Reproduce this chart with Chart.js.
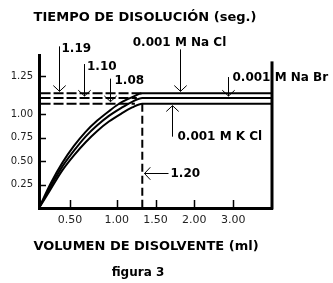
<!DOCTYPE html>
<html>
<head>
<meta charset="utf-8">
<script src="https://cdn.jsdelivr.net/npm/chart.js@4"></script>
<style>
  body { margin: 0; background: #fff; }
</style>
</head>
<body>
<canvas id="figura" width="333" height="283"></canvas>
<script>
const volumen = [0, 0.15, 0.3, 0.45, 0.6, 0.75, 0.9, 1.05, 1.2, 1.33, 3.0];
const tiempoNaCl = [0, 0.26, 0.48, 0.66, 0.81, 0.93, 1.03, 1.12, 1.18, 1.22, 1.22];
const tiempoNaBr = [0, 0.23, 0.44, 0.61, 0.76, 0.88, 0.98, 1.06, 1.13, 1.17, 1.17];
const tiempoKCl = [0, 0.20, 0.40, 0.56, 0.70, 0.82, 0.92, 1.00, 1.07, 1.11, 1.11];

// dashed guides: level of each one and where it stops
const guiaNiveles = [1.22, 1.17, 1.11];
const guiaFin = [1.33, 1.26, 1.235];
const guiaVolumen = 1.33;

// the figure's axes are not to scale, so tick values are where the labels sit
const xTicks = [0.4, 1.0, 1.5, 2.0, 2.5];
const xLabels = ['0.50', '1.00', '1.50', '2.00', '3.00'];
const yTicks = [0.25, 0.5, 0.75, 1.0, 1.4];
const yLabels = ['0.25', '0.50', '0.75', '1.00', '1.25'];

const negro = '#000';

function curva(valores) {
    return {
        data: volumen.map((v, i) => ({ x: v, y: valores[i] })),
        borderColor: negro,
        borderWidth: 2,
        pointRadius: 0,
        cubicInterpolationMode: 'monotone',
    };
}

function guia(nivel, fin) {
    return {
        data: [{ x: 0.02, y: nivel }, { x: fin, y: nivel }],
        borderColor: negro,
        borderWidth: 2,
        borderDash: [10, 3],
        pointRadius: 0,
    };
}

// arrow + label notes (pixel offsets are layout only)
const notas = [
    { texto: '1.19', x: 0.26, y: guiaNiveles[0], dir: 'abajo', largo: 45, dx: 2, dy: 3, align: 'left' },
    { texto: '1.10', x: 0.58, y: guiaNiveles[1], dir: 'abajo', largo: 32, dx: 2.5, dy: 3, align: 'left' },
    { texto: '1.08', x: 0.92, y: guiaNiveles[2], dir: 'abajo', largo: 23, dx: 4, dy: 2, align: 'left' },
    { texto: '0.001 M Na Cl', x: 1.82, y: guiaNiveles[0], dir: 'abajo', largo: 42, dx: -1, dy: -6, align: 'center' },
    { texto: '0.001 M Na Br', x: 2.43, y: guiaNiveles[1], dir: 'abajo', largo: 19, dx: 4, dy: 1, align: 'left' },
    { texto: '0.001 M K Cl', x: 1.71, y: guiaNiveles[2], dir: 'arriba', largo: 31, dx: 5, dy: 0, align: 'left' },
    { texto: '1.20', x: guiaVolumen, y: 0.37, dir: 'izquierda', largo: 24, dx: 2, dy: 0, align: 'left' },
];

function flecha(ctx, x1, y1, x2, y2) {
    ctx.beginPath();
    ctx.moveTo(x1, y1);
    ctx.lineTo(x2, y2);
    ctx.stroke();
    const a = Math.atan2(y2 - y1, x2 - x1);
    const L = 8.5, w = 0.82;
    ctx.beginPath();
    ctx.moveTo(x2 - L * Math.cos(a - w), y2 - L * Math.sin(a - w));
    ctx.lineTo(x2, y2);
    ctx.lineTo(x2 - L * Math.cos(a + w), y2 - L * Math.sin(a + w));
    ctx.stroke();
}

const figuraPlugin = {
    id: 'figura',
    afterDraw(chart) {
        const ctx = chart.ctx;
        const xs = chart.scales.x, ys = chart.scales.y;
        const area = chart.chartArea;
        ctx.save();
        ctx.strokeStyle = negro;
        ctx.fillStyle = negro;

        // right axis
        ctx.lineWidth = 3;
        ctx.beginPath();
        ctx.moveTo(xs.getPixelForValue(3), ys.getPixelForValue(1.56));
        ctx.lineTo(xs.getPixelForValue(3), area.bottom + 1.5);
        ctx.stroke();

        // inner tick marks
        ctx.lineWidth = 1.5;
        yTicks.forEach(v => {
            const y = Math.round(ys.getPixelForValue(v)) + 0.5;
            ctx.beginPath();
            ctx.moveTo(area.left + 1, y);
            ctx.lineTo(area.left + 7, y);
            ctx.stroke();
        });
        xTicks.forEach(v => {
            const x = Math.round(xs.getPixelForValue(v)) + 0.5;
            ctx.beginPath();
            ctx.moveTo(x, area.bottom - 1);
            ctx.lineTo(x, area.bottom - 8);
            ctx.stroke();
        });

        // arrows and their labels
        ctx.lineWidth = 1;
        ctx.font = 'bold 12px "DejaVu Sans"';
        ctx.textBaseline = 'middle';
        notas.forEach(n => {
            const px = Math.round(xs.getPixelForValue(n.x)) + 0.5;
            const py = ys.getPixelForValue(n.y);
            let tip, cola;
            if (n.dir === 'abajo') {
                tip = [px, py - 2];
                cola = [px, py - 2 - n.largo];
            } else if (n.dir === 'arriba') {
                tip = [px, py + 2];
                cola = [px, py + 2 + n.largo];
            } else {
                const yy = Math.round(py) + 0.5;
                tip = [px + 2, yy];
                cola = [px + 2 + n.largo, yy];
            }
            flecha(ctx, cola[0], cola[1], tip[0], tip[1]);
            ctx.textAlign = n.align;
            ctx.fillText(n.texto, cola[0] + n.dx, cola[1] + n.dy);
        });

        // titles
        ctx.textAlign = 'center';
        ctx.font = 'bold 13px "DejaVu Sans"';
        ctx.fillText('TIEMPO DE DISOLUCIÓN (seg.)', 145, 18);
        ctx.fillText('VOLUMEN DE DISOLVENTE (ml)', 146, 247);
        ctx.font = 'bold 12px "DejaVu Sans"';
        ctx.fillText('figura 3', 138, 273);
        ctx.restore();
    },
};

new Chart(document.getElementById('figura').getContext('2d'), {
    type: 'line',
    data: {
        datasets: [
            curva(tiempoNaCl),
            curva(tiempoNaBr),
            curva(tiempoKCl),
            ...guiaNiveles.map((n, i) => guia(n, guiaFin[i])),
            {
                data: [{ x: guiaVolumen, y: tiempoKCl[tiempoKCl.length - 1] }, { x: guiaVolumen, y: 0 }],
                borderColor: negro,
                borderWidth: 2,
                borderDash: [8, 4],
                pointRadius: 0,
            },
        ],
    },
    options: {
        responsive: false,
        animation: false,
        layout: { padding: { top: 55, right: 61, bottom: 0, left: 0 } },
        plugins: { legend: { display: false }, tooltip: { enabled: false } },
        scales: {
            x: {
                type: 'linear',
                min: 0,
                max: 3,
                afterFit: s => { s.height = 75; },
                afterBuildTicks: s => { s.ticks = xTicks.map(v => ({ value: v })); },
                grid: { display: false, drawTicks: false },
                border: { display: true, color: negro, width: 3 },
                ticks: {
                    callback: (v, i) => xLabels[i],
                    autoSkip: false,
                    maxRotation: 0,
                    padding: 6,
                    color: '#222',
                    font: { family: 'DejaVu Sans', size: 11 },
                },
            },
            y: {
                type: 'linear',
                min: 0,
                max: 1.628,
                afterFit: s => { s.width = 39; },
                afterBuildTicks: s => { s.ticks = yTicks.map(v => ({ value: v })); },
                grid: { display: false, drawTicks: false },
                border: { display: true, color: negro, width: 3 },
                ticks: {
                    callback: (v, i) => yLabels[i],
                    autoSkip: false,
                    padding: 6,
                    color: '#222',
                    font: { family: 'DejaVu Sans', size: 10 },
                },
            },
        },
    },
    plugins: [figuraPlugin],
});
</script>
</body>
</html>
